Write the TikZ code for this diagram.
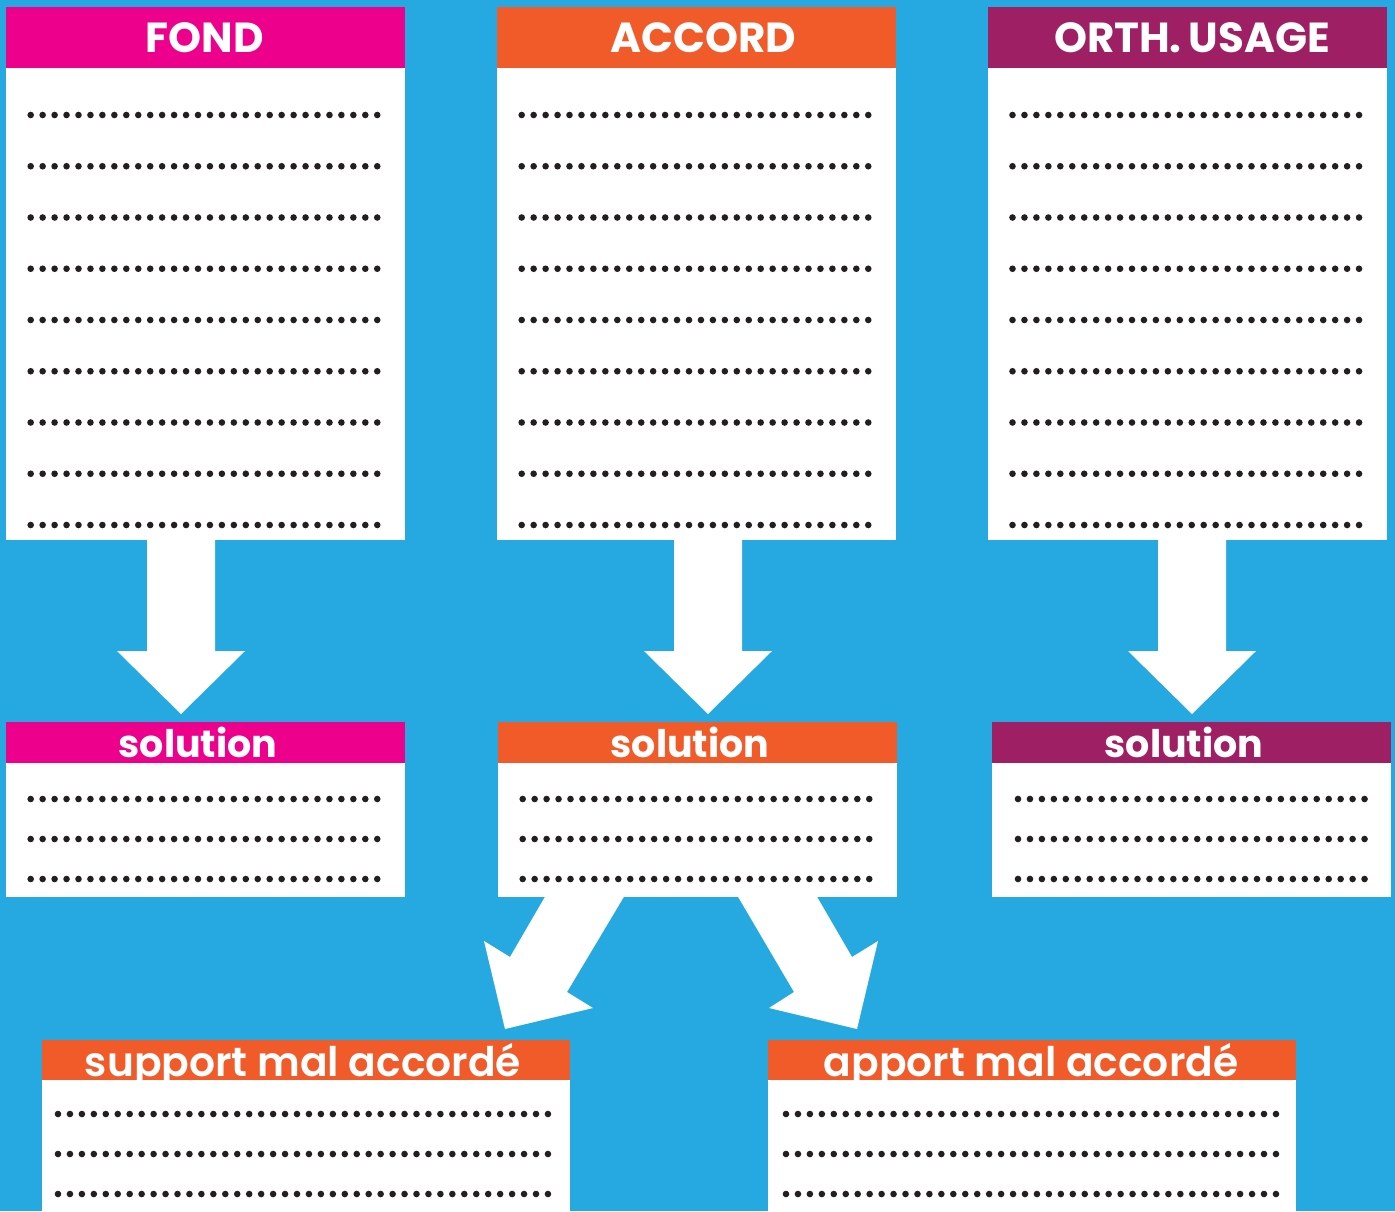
\documentclass[tikz,border=0pt]{standalone}
\usepackage{fontspec}
\setmainfont{Poppins}
\newfontfamily\semibfont{Poppins SemiBold}
\usetikzlibrary{calc}
\definecolor{bgblue}{HTML}{25A9E0}
\definecolor{cpink}{HTML}{EC008C}
\definecolor{corange}{HTML}{F15A29}
\definecolor{cpurple}{HTML}{9E1F63}
\definecolor{dotc}{HTML}{231F20}
\tikzset{
  panel/.style={fill=white, draw=none, inner sep=0pt, anchor=north west},
  headbar/.style={draw=none, inner sep=0pt, anchor=north west},
  headtxt/.style={text=white, inner sep=0pt, anchor=base, font=\bfseries\fontsize{42}{42}\selectfont},
  soltxt/.style={text=white, inner sep=0pt, anchor=base, font=\bfseries\fontsize{38}{38}\selectfont},
  subtxt/.style={text=white, inner sep=0pt, anchor=base, font=\semibfont\fontsize{40.8}{40.8}\selectfont},
  bigarrow/.style={fill=white, draw=none},
  dotmark/.style={fill=dotc}
}
\newcommand{\dotrows}[6]{% node, xoff, yoff, rows, rowsep, ndots
  \foreach \r in {1,...,#4} {
    \foreach \i in {1,...,#6} {
      \fill[dotmark] ($(#1.north west)+({#2+(\i-1)*11.95},{#3+(\r-1)*#5})$) circle (3.3pt);
    }
  }
}
\begin{document}
\begin{tikzpicture}[x=1pt,y=-1pt]
\fill[bgblue] (0,0) rectangle (1395,1211);
\useasboundingbox (0,0) rectangle (1395,1211);

% top panels
\node[panel, minimum width=399pt, minimum height=533pt] (fond) at (6,7) {};
\node[panel, minimum width=399pt, minimum height=533pt] (accord) at (497,7) {};
\node[panel, minimum width=399pt, minimum height=533pt] (orth) at (988,7) {};
\node[headbar, fill=cpink, minimum width=399pt, minimum height=61pt] (fondh) at (6,7) {};
\node[headbar, fill=corange, minimum width=399pt, minimum height=61pt] (accordh) at (497,7) {};
\node[headbar, fill=cpurple, minimum width=399pt, minimum height=61pt] (orthh) at (988,7) {};
\node[headtxt] (fondt) at (204.5,52) {FOND};
\node[headtxt] (accordt) at (703,52) {ACCORD};
\node[headtxt] (ortht) at (1192,52) {ORTH.\,USAGE};

\dotrows{fond}{24.7}{108}{9}{51.25}{30}
\dotrows{accord}{24.7}{108}{9}{51.25}{30}
\dotrows{orth}{24.5}{108}{9}{51.25}{30}

% vertical arrows
\foreach \cx/\nm in {181/a1, 708/a2, 1192/a3} {
  \fill[bigarrow] (\cx-34,538) -- (\cx+34,538) -- (\cx+34,651) -- (\cx+64,651)
    -- (\cx,714) -- (\cx-64,651) -- (\cx-34,651) -- cycle;
}

% solution panels
\node[panel, minimum width=399pt, minimum height=175pt] (fondsol) at (6,722) {};
\node[panel, minimum width=399pt, minimum height=175pt] (accordsol) at (498,722) {};
\node[panel, minimum width=399pt, minimum height=175pt] (orthsol) at (992,722) {};
\node[headbar, fill=cpink, minimum width=399pt, minimum height=41pt] (fondsolh) at (6,722) {};
\node[headbar, fill=corange, minimum width=399pt, minimum height=41pt] (accordsolh) at (498,722) {};
\node[headbar, fill=cpurple, minimum width=399pt, minimum height=41pt] (orthsolh) at (992,722) {};
\node[soltxt] (fondsolt) at (198,757) {solution};
\node[soltxt] (accordsolt) at (690,757) {solution};
\node[soltxt] (orthsolt) at (1184,757) {solution};

\dotrows{fondsol}{24.7}{77}{3}{40}{30}
\dotrows{accordsol}{24.7}{77}{3}{40}{30}
\dotrows{orthsol}{26}{77}{3}{40}{30}

% diagonal arrows
\fill[bigarrow] (546,895) -- (625,895) -- (567,992) -- (593,1008) -- (505,1029)
  -- (484,941) -- (510,957) -- cycle;
\fill[bigarrow] (737,895) -- (816,895) -- (852,957) -- (878,941) -- (857,1029)
  -- (769,1008) -- (794,992) -- cycle;

% bottom panels
\node[panel, minimum width=528pt, minimum height=180pt] (support) at (42,1040) {};
\node[panel, minimum width=528pt, minimum height=180pt] (apport) at (768,1040) {};
\node[headbar, fill=corange, minimum width=528pt, minimum height=40pt] (supporth) at (42,1040) {};
\node[headbar, fill=corange, minimum width=528pt, minimum height=40pt] (apporth) at (768,1040) {};
\node[subtxt] (supportt) at (303,1076) {support mal accordé};
\node[subtxt] (apportt) at (1031,1076) {apport mal accordé};
% white cover for descenders below header
\fill[white] (42,1080) rectangle (570,1100);
\fill[white] (768,1080) rectangle (1296,1100);

\dotrows{support}{16}{74}{3}{40}{42}
\dotrows{apport}{18}{74}{3}{40}{42}
\end{tikzpicture}
\end{document}
